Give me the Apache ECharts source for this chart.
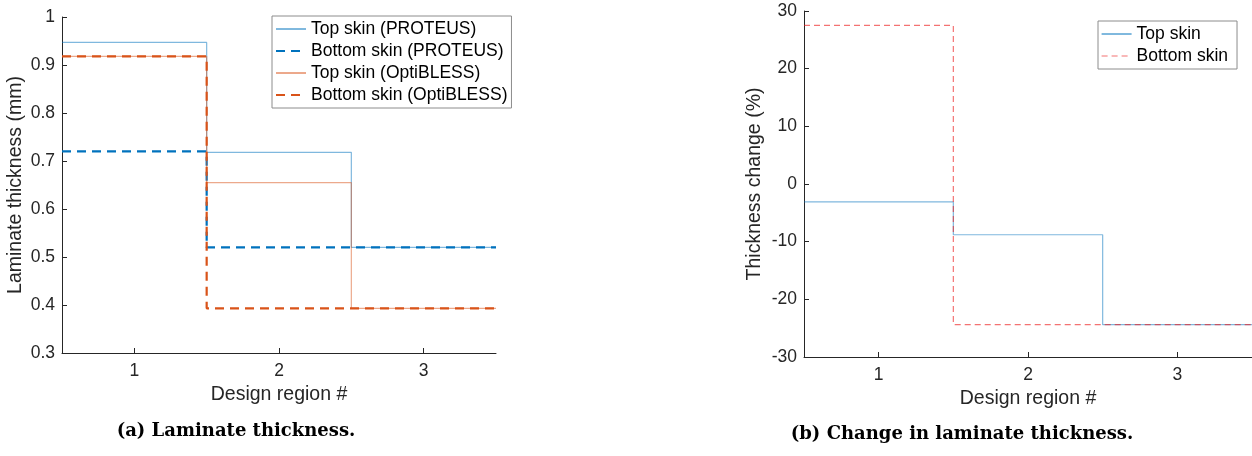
<!DOCTYPE html>
<html>
<head>
<meta charset="utf-8">
<script src="https://cdn.jsdelivr.net/npm/echarts@6/dist/echarts.min.js"></script>
<style>
  html, body { margin: 0; padding: 0; background: #fff; }
  #chart { width: 1252px; height: 456px; }
</style>
</head>
<body>
<div id="chart"></div>
<script>
// design regions and thickness per region
var regions = [1, 2, 3];
var topProteus = [0.947, 0.718, 0.52];
var bottomProteus = [0.72, 0.52, 0.52];
var topOpti = [0.918, 0.655, 0.393];
var bottomOpti = [0.918, 0.393, 0.393];

// thickness change (%)
var topChange = [-3.1, -8.8, -24.4];
var bottomChange = [27.5, -24.4, -24.4];

var thicknessTicks = [0.3, 1, 0.1];   // min, max, step
var changeTicks = [-30, 30, 10];

var ink = '#262626';
var tickFont = 17.5;
var nameFont = 19.5;

// MATLAB stairs style: each region is a flat step from r-0.5 to r+0.5
function stairs(vals) {
  var pts = vals.map(function(v, i) { return [regions[i] - 0.5, v]; });
  pts.push([regions[regions.length - 1] + 0.5, vals[vals.length - 1]]);
  return pts;
}

function xAxisFor(gridIndex) {
  return {
    type: 'value', gridIndex: gridIndex,
    min: regions[0] - 0.5, max: regions[regions.length - 1] + 0.5,
    name: 'Design region #', nameLocation: 'middle', nameGap: 31,
    nameTextStyle: { color: ink, fontSize: nameFont, fontFamily: 'Liberation Sans' },
    axisLine: { show: true, onZero: false, lineStyle: { color: ink, width: 1 } },
    axisTick: { show: true, inside: true, length: 5, customValues: regions, lineStyle: { color: ink } },
    axisLabel: { customValues: regions, color: ink, fontSize: tickFont, fontFamily: 'Liberation Sans', margin: 9 },
    splitLine: { show: false }
  };
}

function yAxisFor(gridIndex, t, name, gap) {
  return {
    type: 'value', gridIndex: gridIndex,
    min: t[0], max: t[1], interval: t[2],
    name: name, nameLocation: 'middle', nameGap: gap,
    nameTextStyle: { color: ink, fontSize: nameFont, fontFamily: 'Liberation Sans' },
    axisLine: { show: true, onZero: false, lineStyle: { color: ink, width: 1 } },
    axisTick: { show: true, inside: true, length: 5, lineStyle: { color: ink } },
    axisLabel: { color: ink, fontSize: tickFont, fontFamily: 'Liberation Sans', margin: 7 },
    splitLine: { show: false }
  };
}

function stepSeries(name, vals, idx, color, width, type) {
  return {
    name: name, type: 'line', step: 'end',
    xAxisIndex: idx, yAxisIndex: idx,
    data: stairs(vals), symbol: 'none', silent: true, animation: false,
    lineStyle: { color: color, width: width, type: type, cap: 'butt' },
    itemStyle: { color: color }
  };
}

// legend entry: line only, no marker
function key(name, color, width) {
  return { name: name, lineStyle: { color: color, width: width }, itemStyle: { opacity: 0 } };
}

var legendText = { color: '#000', fontSize: 17.5, fontFamily: 'Liberation Sans', lineHeight: 18 };
var blue = '#0072BD', orange = '#D95319';
var blueLight = 'rgba(0,114,189,0.5)', orangeLight = 'rgba(217,83,25,0.5)';
var redLight = 'rgba(235,20,20,0.6)';

var chart = echarts.init(document.getElementById('chart'));
chart.setOption({
  animation: false,
  grid: [
    { left: 62, top: 17, width: 434, height: 336 },
    { left: 804, top: 11, width: 448, height: 346 }
  ],
  xAxis: [xAxisFor(0), xAxisFor(1)],
  yAxis: [
    yAxisFor(0, thicknessTicks, 'Laminate thickness (mm)', 36),
    yAxisFor(1, changeTicks, 'Thickness change (%)', 39)
  ],
  legend: [
    {
      left: 272, top: 16, orient: 'vertical',
      itemWidth: 30, itemHeight: 14, itemGap: 4,
      padding: [4, 4, 4, 3],
      backgroundColor: '#fff', borderColor: '#8c8c8c', borderWidth: 1,
      textStyle: legendText, selectedMode: false,
      data: [
        key('Top skin (PROTEUS)', blue, 1),
        key('Bottom skin (PROTEUS)', blue, 2),
        key('Top skin (OptiBLESS)', orange, 1),
        key('Bottom skin (OptiBLESS)', orange, 2)
      ]
    },
    {
      left: 1098, top: 21, orient: 'vertical',
      itemWidth: 30, itemHeight: 14, itemGap: 4,
      padding: [4, 9, 4, 3],
      backgroundColor: '#fff', borderColor: '#8c8c8c', borderWidth: 1,
      textStyle: legendText, selectedMode: false,
      data: [
        key('Top skin', blue, 1),
        key('Bottom skin', redLight, 1.2)
      ]
    }
  ],
  series: [
    stepSeries('Top skin (PROTEUS)', topProteus, 0, blueLight, 1.2, 'solid'),
    stepSeries('Bottom skin (PROTEUS)', bottomProteus, 0, blue, 2.2, [9, 6]),
    stepSeries('Top skin (OptiBLESS)', topOpti, 0, orangeLight, 1.2, 'solid'),
    stepSeries('Bottom skin (OptiBLESS)', bottomOpti, 0, orange, 2.2, [9, 6]),
    stepSeries('Top skin', topChange, 1, blueLight, 1.2, 'solid'),
    stepSeries('Bottom skin', bottomChange, 1, redLight, 1.2, [6, 4])
  ],
  graphic: [
    {
      type: 'text', x: 236, y: 431,
      style: { text: '(a) Laminate thickness.', fill: '#000', align: 'center', verticalAlign: 'middle',
               font: 'bold 18px "DejaVu Serif"' }
    },
    {
      type: 'text', x: 962, y: 434,
      style: { text: '(b) Change in laminate thickness.', fill: '#000', align: 'center', verticalAlign: 'middle',
               font: 'bold 18px "DejaVu Serif"' }
    }
  ]
});
</script>
</body>
</html>
